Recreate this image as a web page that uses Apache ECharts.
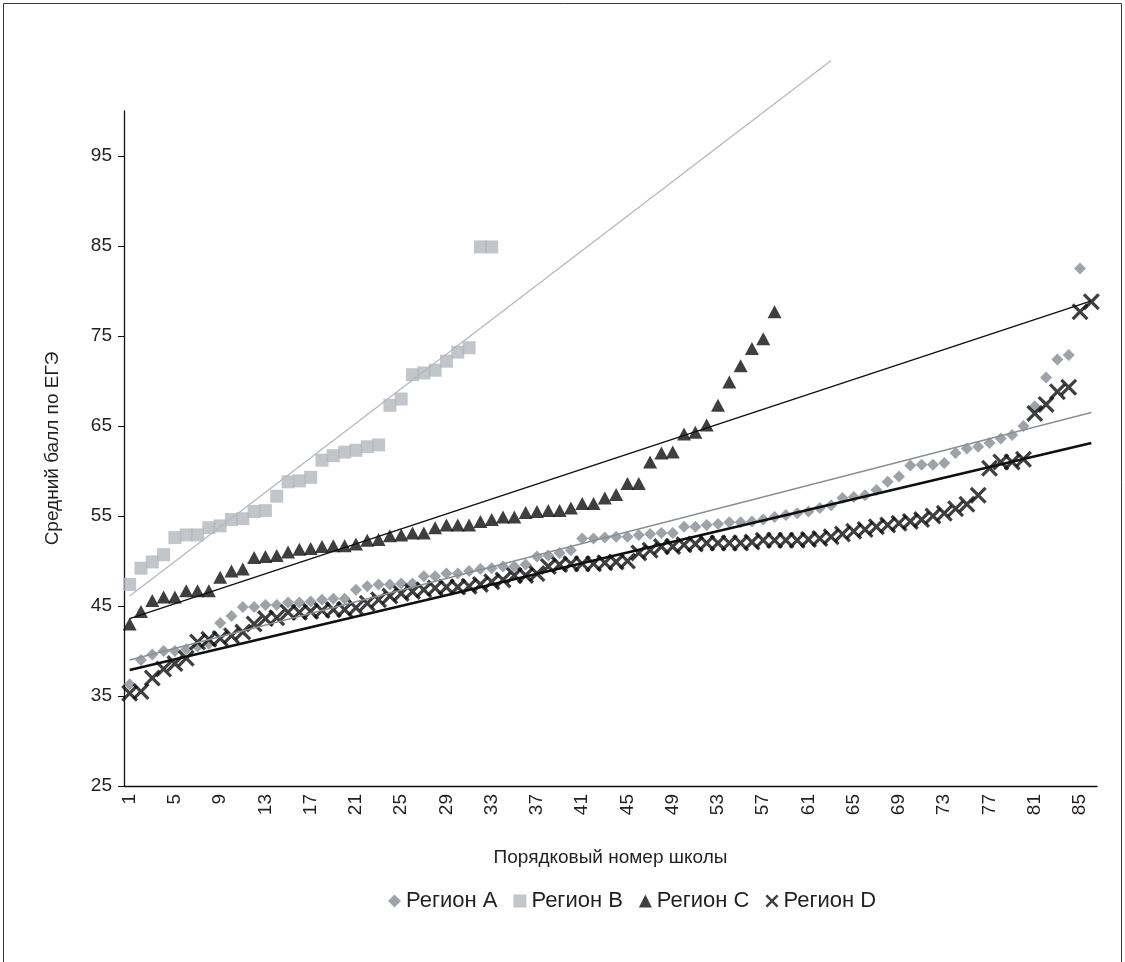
<!DOCTYPE html>
<html>
<head>
<meta charset="utf-8">
<script src="https://cdn.jsdelivr.net/npm/echarts@6/dist/echarts.min.js"></script>
<style>
  html, body { margin: 0; padding: 0; background: #fff; }
  #chart { width: 1125px; height: 962px; }
</style>
</head>
<body>
<div id="chart"></div>
<script>
// School ordinal numbers on the x axis (1..86)
const categories = Array.from({ length: 86 }, (_, i) => String(i + 1));

// Y axis tick values
const yTicks = [25, 35, 45, 55, 65, 75, 85, 95];

// Average exam score per school, sorted ascending, by region
const regionA = [
  36.3, 39.0, 39.6, 40.0, 40.0, 40.2, 40.5, 40.8, 43.1, 43.9,
  44.9, 44.9, 45.1, 45.1, 45.4, 45.4, 45.5, 45.7, 45.8, 45.8,
  46.8, 47.2, 47.4, 47.4, 47.5, 47.5, 48.3, 48.3, 48.6, 48.6,
  48.9, 49.1, 49.2, 49.4, 49.4, 49.6, 50.5, 50.6, 50.9, 51.2,
  52.5, 52.5, 52.6, 52.7, 52.7, 52.9, 53.0, 53.1, 53.1, 53.8,
  53.8, 54.0, 54.1, 54.3, 54.3, 54.4, 54.6, 54.9, 55.1, 55.3,
  55.5, 55.9, 56.2, 57.0, 57.1, 57.3, 57.9, 58.8, 59.4, 60.6,
  60.7, 60.7, 60.9, 62.0, 62.5, 62.7, 63.1, 63.6, 64.0, 65.0,
  67.2, 70.4, 72.4, 72.9, 82.5
];

const regionB = [
  47.4, 49.2, 49.9, 50.7, 52.6, 52.9, 52.9, 53.7, 53.9, 54.6,
  54.7, 55.5, 55.6, 57.2, 58.8, 58.9, 59.3, 61.2, 61.7, 62.1,
  62.3, 62.7, 62.9, 67.3, 68.0, 70.7, 70.9, 71.2, 72.2, 73.2,
  73.7, 84.9, 84.9
];

const regionC = [
  43.0, 44.4, 45.6, 46.0, 46.0, 46.7, 46.7, 46.7, 48.2, 48.9,
  49.1, 50.4, 50.5, 50.6, 51.0, 51.3, 51.4, 51.6, 51.7, 51.7,
  51.9, 52.3, 52.4, 52.8, 52.9, 53.1, 53.1, 53.7, 54.0, 54.0,
  54.0, 54.4, 54.6, 54.9, 54.9, 55.4, 55.5, 55.6, 55.6, 55.9,
  56.4, 56.4, 57.0, 57.4, 58.6, 58.6, 61.0, 62.0, 62.1, 64.1,
  64.3, 65.1, 67.3, 69.9, 71.7, 73.6, 74.7, 77.7
];

const regionD = [
  35.3, 35.5, 37.0, 38.0, 38.6, 39.2, 41.0, 41.3, 41.4, 41.7,
  42.1, 43.0, 43.6, 43.7, 44.3, 44.3, 44.4, 44.5, 44.6, 44.6,
  44.8, 45.3, 45.7, 46.1, 46.4, 46.6, 46.8, 47.0, 47.1, 47.1,
  47.2, 47.4, 47.7, 47.9, 48.4, 48.4, 48.6, 49.4, 49.6, 49.7,
  49.7, 49.7, 49.8, 49.9, 50.0, 50.9, 51.2, 51.6, 51.6, 51.8,
  51.9, 52.0, 52.0, 52.0, 52.0, 52.1, 52.3, 52.3, 52.3, 52.3,
  52.4, 52.5, 52.7, 53.0, 53.3, 53.5, 53.8, 54.0, 54.2, 54.4,
  54.6, 55.0, 55.3, 55.8, 56.3, 57.3, 60.3, 61.0, 61.0, 61.3,
  66.4, 67.4, 68.8, 69.3, 77.7, 78.8
];

// Linear trend lines: [school number, score] at each end
const trendA = [['1', 39.0], ['86', 66.5]];
const trendB = [['1', 46.1], ['63', 105.6]];
const trendC = [['1', 43.6], ['86', 78.9]];
const trendD = [['1', 37.9], ['86', 63.1]];

const seriesNames = ['Регион A', 'Регион B', 'Регион C', 'Регион D'];

const FONT = 'Liberation Sans, Arial, sans-serif';
const TEXT = '#231f20';
const INK = '#0f0f0f';

// Thick diagonal cross used as the Region D marker
const crossPath = 'path://M0,2.7 L2.7,0 L10,7.3 L17.3,0 L20,2.7 L12.7,10 L20,17.3 L17.3,20 L10,12.7 L2.7,20 L0,17.3 L7.3,10 Z';

const chart = echarts.init(document.getElementById('chart'), null, { renderer: 'canvas' });

function trend(data, color, width) {
  return {
    type: 'line', data: data, symbol: 'none', silent: true, clip: false,
    z: 5, lineStyle: { color: color, width: width }
  };
}

chart.setOption({
  animation: false,
  backgroundColor: '#fff',
  textStyle: { fontFamily: FONT, color: TEXT },
  grid: { left: 124, right: 28, top: 111, bottom: 176 },
  graphic: [{
    type: 'polyline',
    silent: true,
    shape: { points: [[3.5, 962], [3.5, 3.5], [1121.5, 3.5], [1121.5, 962]] },
    style: { stroke: '#3a3a3a', lineWidth: 1, fill: null }
  }],
  legend: {
    data: seriesNames,
    left: 388,
    top: 890,
    padding: 0,
    itemGap: 16,
    itemWidth: 13,
    itemHeight: 13,
    textStyle: { fontFamily: FONT, fontSize: 22, color: TEXT }
  },
  xAxis: {
    type: 'category',
    data: categories,
    boundaryGap: true,
    name: 'Порядковый номер школы',
    nameLocation: 'middle',
    nameGap: 62,
    nameTextStyle: { fontFamily: FONT, fontSize: 19, color: TEXT },
    axisLine: { lineStyle: { color: INK, width: 1.3 } },
    axisTick: { interval: 0, length: 5, lineStyle: { color: INK, width: 1 } },
    axisLabel: { interval: 3, rotate: 90, margin: 8, fontFamily: FONT, fontSize: 19, color: TEXT },
    splitLine: { show: false }
  },
  yAxis: {
    type: 'value',
    min: 25,
    max: 100,
    name: 'Средний балл по ЕГЭ',
    nameLocation: 'middle',
    nameGap: 62,
    nameTextStyle: { fontFamily: FONT, fontSize: 19, color: TEXT },
    axisLine: { show: true, lineStyle: { color: INK, width: 1.3 } },
    axisTick: { show: true, length: 6, customValues: yTicks, lineStyle: { color: INK, width: 1 } },
    axisLabel: { customValues: yTicks, margin: 12, fontFamily: FONT, fontSize: 19, color: TEXT },
    splitLine: { show: false }
  },
  series: [
    { name: seriesNames[1], type: 'scatter', data: regionB, symbol: 'rect', symbolSize: 13,
      itemStyle: { color: '#b3b7bc' }, silent: true, z: 2 },
    { name: seriesNames[2], type: 'scatter', data: regionC, symbol: 'triangle', symbolSize: [14, 13],
      itemStyle: { color: INK }, silent: true, z: 2 },
    { name: seriesNames[0], type: 'scatter', data: regionA, symbol: 'diamond', symbolSize: 12,
      itemStyle: { color: '#878c91' }, silent: true, z: 3 },
    { name: seriesNames[3], type: 'scatter', data: regionD, symbol: crossPath, symbolSize: 17,
      itemStyle: { color: INK }, silent: true, z: 4 },
    trend(trendB, '#b5b9be', 1.3),
    trend(trendA, '#8a8f94', 1.3),
    trend(trendC, INK, 1.4),
    trend(trendD, INK, 2.6)
  ]
});
</script>
</body>
</html>
